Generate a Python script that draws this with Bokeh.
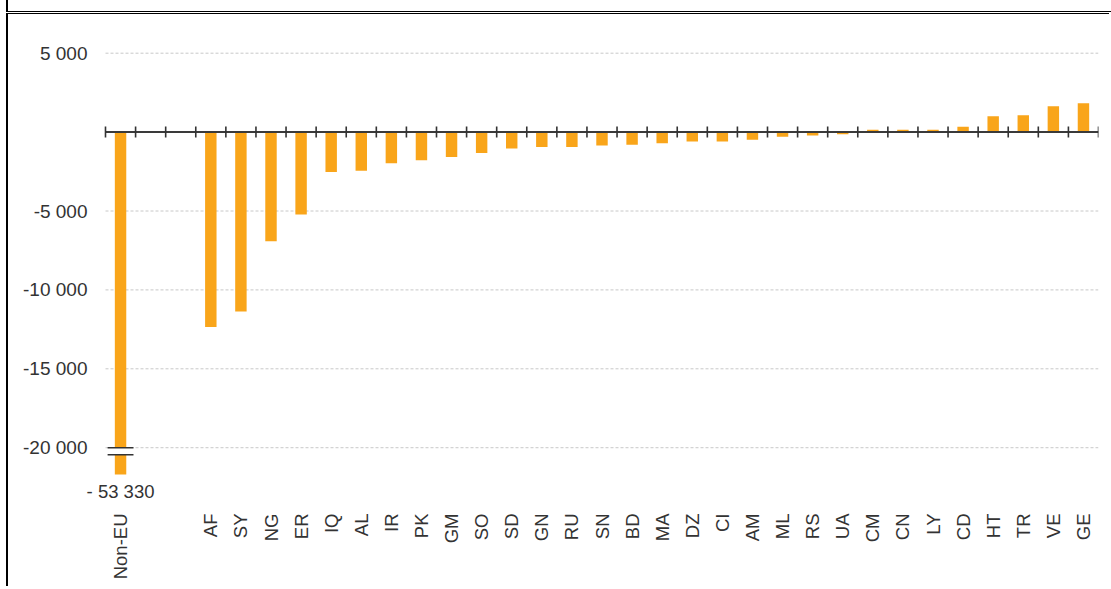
import math
from bokeh.plotting import figure
from bokeh.models import FixedTicker, Div, Range1d, ColumnDataSource
from bokeh.layouts import column
from bokeh.embed import file_html
from bokeh.resources import INLINE
from bokeh.core.properties import value

# ---------------- data ----------------
total_label = "Non-EU"
total_value = -53330
countries = ["AF", "SY", "NG", "ER", "IQ", "AL", "IR", "PK", "GM", "SO",
             "SD", "GN", "RU", "SN", "BD", "MA", "DZ", "CI", "AM", "ML",
             "RS", "UA", "CM", "CN", "LY", "CD", "HT", "TR", "VE", "GE"]
values = [-12350, -11370, -6920, -5220, -2530, -2450, -1980, -1790, -1580, -1320,
          -1040, -940, -940, -850, -805, -700, -590, -590, -490, -300,
          -210, -130, 150, 150, 150, 340, 1000, 1070, 1640, 1830]
y_ticks = [5000, -5000, -10000, -15000, -20000]

# ---------------- style params ----------------
gap_slots = 2            # empty slots between total and countries
bar_width = 0.38
display_floor = -21700   # truncated display of the broken total bar
break_at = -20000
break_gap = 450
tick_half = 350
BAR = "#F9A51A"
FONT = "Liberation Sans"
TXT = "#333333"

n_slots = 1 + gap_slots + len(countries)
cx = [1 + gap_slots + i + 0.5 for i in range(len(countries))]

x_start = -27 * n_slots / (1020 - 27)   # leaves room for the total's value label

p = figure(width=1103, height=573, output_backend="svg", toolbar_location=None,
           x_range=Range1d(x_start, n_slots), y_range=Range1d(-23726, 6692),
           min_border_left=70, min_border_right=13, min_border_top=12, min_border_bottom=81,
           outline_line_color=None, background_fill_color="white", border_fill_color="white",
           margin=(0, 0, 0, 6),
           styles={"border-left": "2px solid black", "border-top": "1px solid black"})

# dashed grid lines across the slot area
p.segment(x0=[0] * len(y_ticks), x1=[n_slots] * len(y_ticks), y0=y_ticks, y1=y_ticks,
          line_color="#c8c8c8", line_dash="3 2", line_width=1)

# bars
src = ColumnDataSource(dict(x=cx, top=values))
p.vbar(x="x", top="top", bottom=0, width=bar_width, source=src, fill_color=BAR, line_color=None)
tot_disp = max(total_value, display_floor)
p.vbar(x=[0.5], top=[0], bottom=[tot_disp], width=bar_width, fill_color=BAR, line_color=None)

# axis break symbol
p.quad(left=[0.5 - 0.43], right=[0.5 + 0.43], top=[break_at], bottom=[break_at - break_gap],
       fill_color="white", line_color=None)
p.segment(x0=[0.5 - 0.43] * 2, x1=[0.5 + 0.43] * 2, y0=[break_at, break_at - break_gap],
          y1=[break_at, break_at - break_gap], line_color="#333333", line_width=1.6)

# total value label
lab = "- " + f"{abs(total_value):,}".replace(",", " ")
p.text(x=[0.5], y=[tot_disp], text=[lab], text_font=value(FONT), text_font_size="18.5px",
       text_color=TXT, text_align="center", text_baseline="top", y_offset=6)

# zero line with tick marks at slot boundaries
p.segment(x0=[0], x1=[n_slots], y0=[0], y1=[0], line_color="#3a3a3a", line_width=2)
bx = list(range(n_slots + 1))
p.segment(x0=bx, x1=bx, y0=[-tick_half] * len(bx), y1=[tick_half] * len(bx),
          line_color="#333333", line_width=1.6)

# axes
p.xgrid.visible = False
p.ygrid.visible = False

p.yaxis.ticker = FixedTicker(ticks=y_ticks)
p.yaxis.major_label_overrides = {t: (f"{t:,}".replace(",", " ")) for t in y_ticks}
p.yaxis.axis_line_color = None
p.yaxis.major_tick_line_color = None
p.yaxis.minor_tick_line_color = None
p.yaxis.major_label_standoff = -15
p.yaxis.major_label_text_font = FONT
p.yaxis.major_label_text_font_size = "19px"
p.yaxis.major_label_text_color = TXT

xt = [0.5] + cx
p.xaxis.ticker = FixedTicker(ticks=xt)
p.xaxis.major_label_overrides = {t: l for t, l in zip(xt, [total_label] + countries)}
p.xaxis.axis_line_color = None
p.xaxis.major_tick_line_color = None
p.xaxis.minor_tick_line_color = None
p.xaxis.major_label_orientation = math.pi / 2
p.xaxis.major_label_standoff = 1
p.xaxis.major_label_text_font = FONT
p.xaxis.major_label_text_font_size = "18.5px"
p.xaxis.major_label_text_color = TXT

top_box = Div(text="", width=1105, height=12, margin=(0, 0, 0, 6),
              styles={"border-left": "2px solid black", "border-bottom": "1px solid black"})

layout = column(top_box, p, spacing=1)
open("out.html", "w").write(file_html(layout, INLINE))
